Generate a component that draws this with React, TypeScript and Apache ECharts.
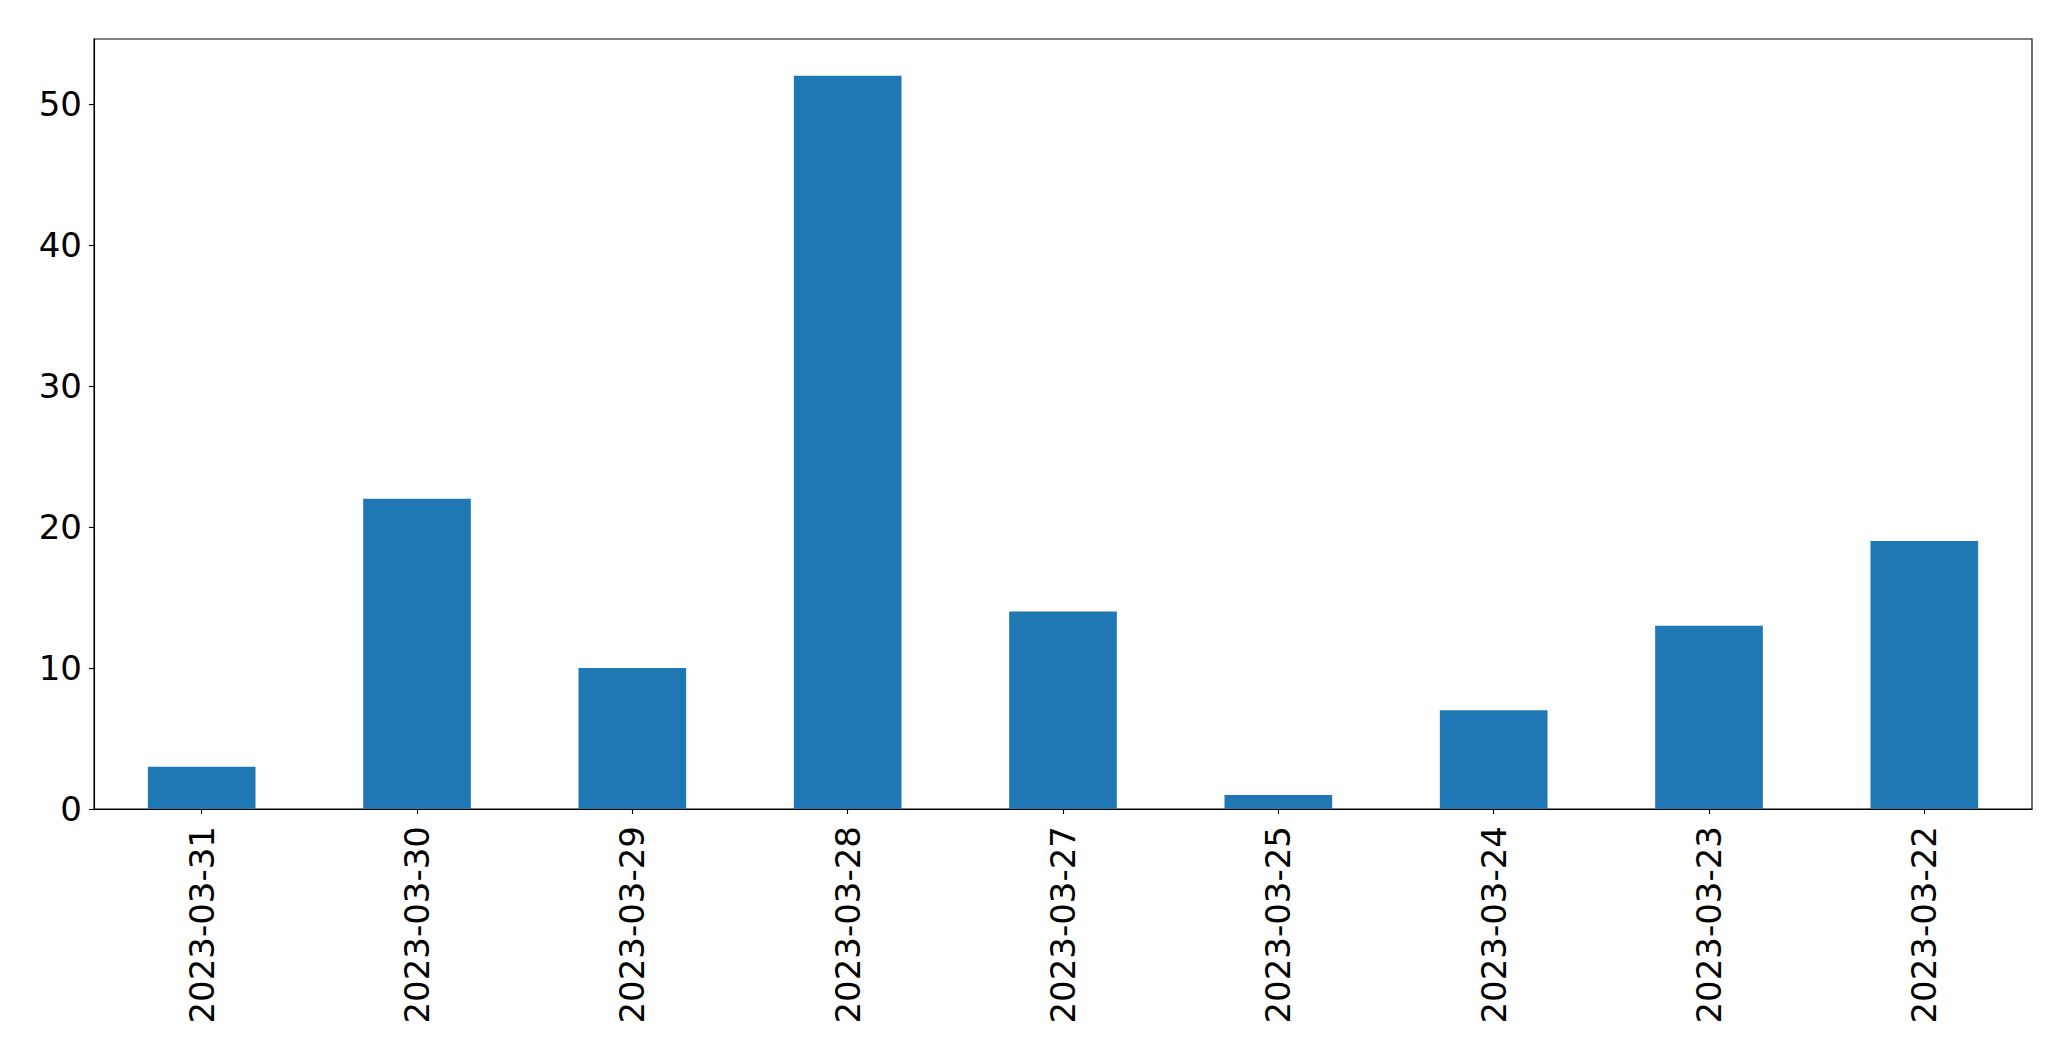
import React, { useEffect, useRef } from "react";
import * as echarts from "echarts";

const categories = [
  "2023-03-31",
  "2023-03-30",
  "2023-03-29",
  "2023-03-28",
  "2023-03-27",
  "2023-03-25",
  "2023-03-24",
  "2023-03-23",
  "2023-03-22",
];
const values = [3, 22, 10, 52, 14, 1, 7, 13, 19];
const yMax = 54.6;
const yInterval = 10;

export default function App() {
  const ref = useRef<HTMLDivElement>(null);
  useEffect(() => {
    if (!ref.current) return;
    const chart = echarts.init(ref.current, null, { renderer: "svg" });
    const font = "DejaVu Sans";
    chart.setOption({
      animation: false,
      backgroundColor: "#ffffff",
      grid: {
        left: 94,
        right: 39,
        top: 39,
        bottom: 252,
        show: true,
        borderColor: "#000000",
        borderWidth: 1.1,
        backgroundColor: "transparent",
      },
      xAxis: {
        type: "category",
        data: categories,
        boundaryGap: true,
        axisLine: { show: true, lineStyle: { color: "#000000", width: 1.1 } },
        axisTick: {
          show: true,
          alignWithLabel: true,
          length: 5,
          lineStyle: { color: "#000000", width: 1.1 },
        },
        axisLabel: {
          rotate: 90,
          margin: 17,
          color: "#000000",
          fontFamily: font,
          fontSize: 34,
          interval: 0,
        },
        splitLine: { show: false },
      },
      yAxis: {
        type: "value",
        min: 0,
        max: yMax,
        interval: yInterval,
        axisLine: { show: true, lineStyle: { color: "#000000", width: 1.1 } },
        axisTick: {
          show: true,
          length: 5,
          lineStyle: { color: "#000000", width: 1.1 },
        },
        axisLabel: {
          margin: 12,
          color: "#000000",
          fontFamily: font,
          fontSize: 34,
          showMaxLabel: false,
        },
        splitLine: { show: false },
      },
      series: [
        {
          type: "bar",
          data: values,
          barWidth: "50%",
          itemStyle: { color: "#1f77b4" },
        },
      ],
    });
    return () => chart.dispose();
  }, []);
  return (
    <div
      ref={ref}
      style={{ position: "absolute", left: 0, top: 0, width: 2071, height: 1061 }}
    />
  );
}
